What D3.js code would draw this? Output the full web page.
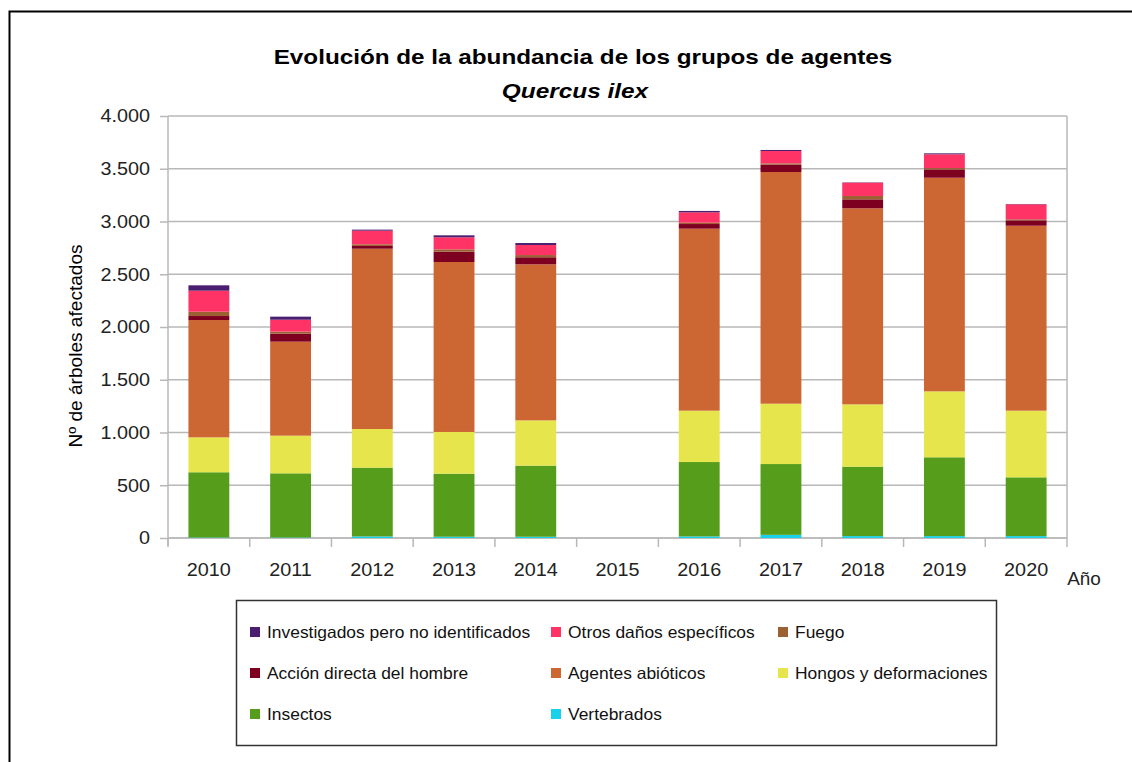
<!DOCTYPE html>
<html>
<head>
<meta charset="utf-8">
<script src="https://cdn.jsdelivr.net/npm/d3@7"></script>
<style>
  html, body { margin: 0; padding: 0; background: #fff; }
  svg { display: block; font-family: "Liberation Sans", Arial, sans-serif; }
</style>
</head>
<body>
<svg id="chart" width="1132" height="762"></svg>
<script>
// Years on the category axis (2015 has no survey data)
const years = ["2010", "2011", "2012", "2013", "2014", "2015", "2016", "2017", "2018", "2019", "2020"];

// Number of affected trees per agent group, stacked bottom to top
const vertebrados   = [5, 5, 15, 12, 12, 0, 15, 30, 18, 18, 18];
const insectos      = [618, 608, 652, 598, 674, 0, 705, 671, 658, 747, 557];
const hongos        = [331, 357, 366, 395, 429, 0, 487, 572, 591, 625, 632];
const abioticos     = [1112, 891, 1709, 1611, 1479, 0, 1725, 2196, 1858, 2025, 1753];
const accion        = [38, 76, 26, 98, 67, 0, 44, 70, 85, 79, 51];
const fuego         = [41, 19, 16, 22, 21, 0, 13, 12, 32, 13, 10];
const otros         = [199, 113, 129, 114, 95, 0, 98, 117, 126, 130, 142];
const investigados  = [51, 29, 10, 19, 19, 0, 13, 10, 3, 9, 3];

// Series names (stack order) and colours
const seriesNames = ["Vertebrados", "Insectos", "Hongos y deformaciones", "Agentes abióticos",
  "Acción directa del hombre", "Fuego", "Otros daños específicos", "Investigados pero no identificados"];
const seriesValues = [vertebrados, insectos, hongos, abioticos, accion, fuego, otros, investigados];
const seriesColors = ["#1ad1ec", "#579d1c", "#e6e64c", "#cc6633", "#7e0021", "#9c6133", "#ff3366", "#4b1f6f"];

// Legend order (row by row)
const legendOrder = ["Investigados pero no identificados", "Otros daños específicos", "Fuego",
  "Acción directa del hombre", "Agentes abióticos", "Hongos y deformaciones",
  "Insectos", "Vertebrados"];

const yTicks = [0, 500, 1000, 1500, 2000, 2500, 3000, 3500, 4000];

const svg = d3.select("#chart");
const plot = { left: 168, right: 1067, top: 116, bottom: 538 };
const gridColor = "#b8b8b8";

// Widen text horizontally by factor k (the chart uses a slightly wide lettering)
function widen(sel, k) {
  sel.each(function () {
    const w = this.getComputedTextLength();
    d3.select(this).attr("textLength", w * k).attr("lengthAdjust", "spacingAndGlyphs");
  });
}

// Outer frame
svg.append("rect")
  .attr("x", 9.5).attr("y", 11.5)
  .attr("width", 1200).attr("height", 800)
  .attr("fill", "none").attr("stroke", "#000").attr("stroke-width", 2);

// Titles
const t1 = svg.append("text")
  .attr("x", 583).attr("y", 64)
  .attr("text-anchor", "middle")
  .attr("font-size", 21).attr("font-weight", "bold").attr("fill", "#000")
  .text("Evolución de la abundancia de los grupos de agentes");
const t2 = svg.append("text")
  .attr("x", 575).attr("y", 98)
  .attr("text-anchor", "middle")
  .attr("font-size", 21).attr("font-weight", "bold").attr("font-style", "italic").attr("fill", "#000")
  .text("Quercus ilex");
widen(t1, 1.155);
widen(t2, 1.16);

// Scales
const x = d3.scaleBand().domain(years).range([plot.left, plot.right]).padding(0);
const y = d3.scaleLinear().domain([0, 4000]).range([plot.bottom, plot.top]);

const esLocale = d3.formatLocale({ decimal: ",", thousands: ".", grouping: [3], currency: ["", " €"] });
const fmt = esLocale.format(",");

// Horizontal gridlines
svg.append("g")
  .selectAll("line")
  .data(yTicks)
  .join("line")
  .attr("x1", plot.left).attr("x2", plot.right)
  .attr("y1", d => y(d)).attr("y2", d => y(d))
  .attr("stroke", gridColor).attr("stroke-width", 1.5);

// Right border of the plot area
svg.append("line")
  .attr("x1", plot.right).attr("x2", plot.right)
  .attr("y1", plot.top).attr("y2", plot.bottom)
  .attr("stroke", gridColor).attr("stroke-width", 1.5);

// Y axis
const yAxis = svg.append("g")
  .attr("transform", `translate(${plot.left},0)`)
  .call(d3.axisLeft(y).tickValues(yTicks).tickFormat(fmt).tickSize(8).tickPadding(10));
yAxis.select(".domain").attr("stroke", gridColor).attr("stroke-width", 1.5)
  .attr("d", `M0,${plot.top}V${plot.bottom + 8}`);
yAxis.selectAll(".tick line").attr("stroke", gridColor).attr("stroke-width", 1.5);
yAxis.selectAll(".tick text").attr("font-size", 18).attr("fill", "#222")
  .attr("font-family", "Liberation Sans, Arial, sans-serif");
widen(yAxis.selectAll(".tick text"), 1.1);

// X axis with ticks at category boundaries
const xAxis = svg.append("g").attr("transform", `translate(0,${plot.bottom})`);
xAxis.append("line")
  .attr("x1", plot.left).attr("x2", plot.right)
  .attr("stroke", gridColor).attr("stroke-width", 1.5);
const boundaries = years.map(d => x(d)).concat([x(years[years.length - 1]) + x.bandwidth()]);
xAxis.selectAll("line.tk")
  .data(boundaries)
  .join("line").attr("class", "tk")
  .attr("x1", d => d).attr("x2", d => d)
  .attr("y1", 0).attr("y2", 9)
  .attr("stroke", gridColor).attr("stroke-width", 1.5);
const yearLabels = xAxis.selectAll("text")
  .data(years)
  .join("text")
  .attr("x", d => x(d) + x.bandwidth() / 2)
  .attr("y", 38)
  .attr("text-anchor", "middle")
  .attr("font-size", 18).attr("fill", "#222")
  .text(d => d);
widen(yearLabels, 1.1);

// Axis titles
const xt = svg.append("text")
  .attr("x", 1084).attr("y", 585)
  .attr("text-anchor", "middle")
  .attr("font-size", 18).attr("fill", "#222")
  .text("Año");
widen(xt, 1.05);
const yt = svg.append("text")
  .attr("transform", `translate(82,346) rotate(-90)`)
  .attr("text-anchor", "middle")
  .attr("font-size", 18).attr("fill", "#000")
  .text("Nº de árboles afectados");
widen(yt, 1.06);

// Stacked bars
const table = years.map((yr, i) => {
  const row = { year: yr };
  seriesNames.forEach((n, k) => { row[n] = seriesValues[k][i]; });
  return row;
});
const stacked = d3.stack().keys(seriesNames)(table);
const color = d3.scaleOrdinal().domain(seriesNames).range(seriesColors);
const barW = x.bandwidth() * 0.5;

svg.append("g")
  .selectAll("g")
  .data(stacked)
  .join("g")
  .attr("fill", d => color(d.key))
  .selectAll("rect")
  .data(d => d)
  .join("rect")
  .attr("x", d => x(d.data.year) + (x.bandwidth() - barW) / 2)
  .attr("width", barW)
  .attr("y", d => y(d[1]))
  .attr("height", d => Math.max(0, y(d[0]) - y(d[1])));

// Legend
const legend = svg.append("g");
legend.append("rect")
  .attr("x", 236.5).attr("y", 600.5)
  .attr("width", 760).attr("height", 145)
  .attr("fill", "#fff").attr("stroke", "#333").attr("stroke-width", 1.5);
const colX = [250, 551, 778];
const rowY = [632, 673, 714];
legendOrder.forEach((name, i) => {
  const cx = colX[i % 3], cy = rowY[Math.floor(i / 3)];
  legend.append("rect")
    .attr("x", cx).attr("y", cy - 5)
    .attr("width", 10).attr("height", 10)
    .attr("fill", color(name));
  const lt = legend.append("text")
    .attr("x", cx + 17).attr("y", cy + 6)
    .attr("font-size", 16.5).attr("fill", "#111")
    .text(name);
  widen(lt, 1.055);
});
</script>
</body>
</html>
